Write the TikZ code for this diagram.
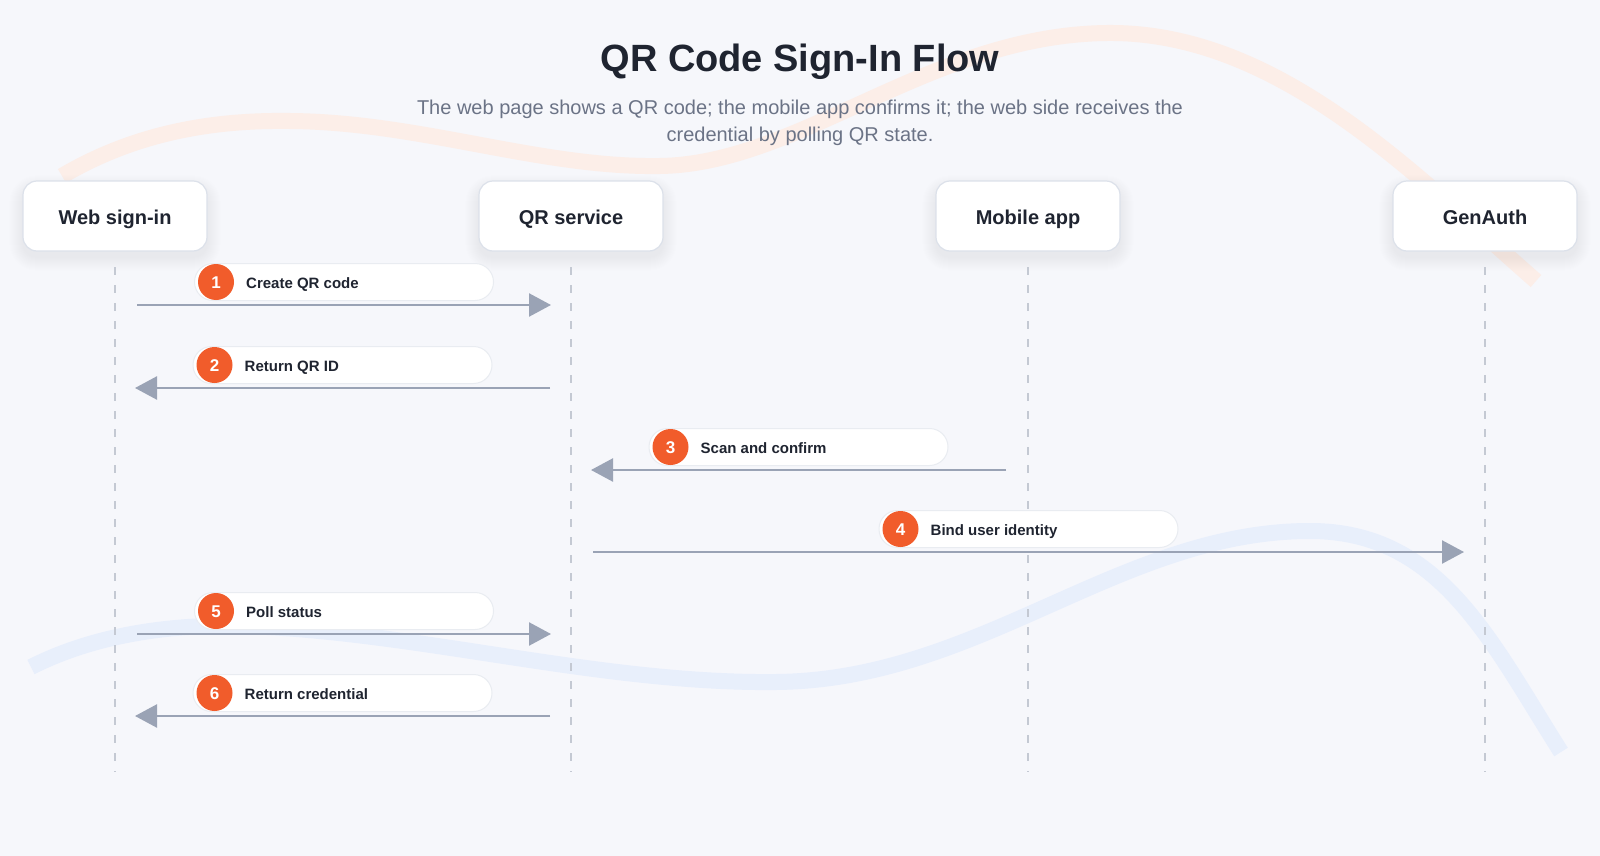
\documentclass[tikz,border=0pt]{standalone}
\usepackage{fontspec}
\setmainfont{Liberation Sans}
\usetikzlibrary{arrows.meta,calc}
\definecolor{bg}{HTML}{F6F7FB}
\definecolor{ink}{HTML}{1F2430}
\definecolor{subtxt}{HTML}{6B7386}
\definecolor{boxline}{HTML}{DCE1EA}
\definecolor{pillline}{HTML}{E9ECF1}
\definecolor{lifeclr}{HTML}{C4C9D3}
\definecolor{arrowclr}{HTML}{9AA3B5}
\definecolor{badgeclr}{HTML}{F15C2B}
\definecolor{peach}{HTML}{FCEEE8}
\definecolor{bluish}{HTML}{E8EFFB}
\pgfdeclarelayer{decolayer}
\pgfdeclarelayer{shadowlayer}
\pgfsetlayers{decolayer,shadowlayer,main}
\tikzset{
  actor/.style={draw=boxline, line width=1.2pt, fill=white, rounded corners=14pt,
    minimum width=184pt, minimum height=70pt, text=ink, text height=17pt, text depth=0pt,
    font=\bfseries\fontsize{20}{23}\selectfont},
  lifeline/.style={draw=lifeclr, line width=1.6pt, dash pattern=on 8pt off 10pt},
  msgarrow/.style={draw=arrowclr, line width=2.4pt, -{Triangle[length=22pt,width=23pt]}},
  pill/.style={draw=pillline, line width=1pt, fill=white, rounded corners=18.5pt,
    minimum width=299pt, minimum height=37pt, inner sep=0pt},
  badge/.style={circle, fill=badgeclr, minimum size=36pt, inner sep=0pt, text=white,
    text height=12.5pt, text depth=0pt, font=\bfseries\fontsize{17}{20}\selectfont},
  msglabel/.style={anchor=west, inner sep=0pt, text=ink, text height=12.8pt, text depth=0pt,
    font=\bfseries\fontsize{15}{18}\selectfont},
  deco/.style={line width=16pt, line cap=butt},
  softshadow/.style={fill=black, opacity=0.0035}
}
\newcommand\qrmsg[6]{%
  \coordinate (#1s) at (#2,#4);
  \coordinate (#1e) at (#3,#4);
  \draw[msgarrow] (#1s) -- (#1e);
  \node[pill] (#1p) at ($(#1s)!0.5!(#1e)+(0,-23)$) {};
  \node[badge] (#1b) at ($(#1p.west)+(22,0)$) {#5};
  \node[msglabel] (#1t) at ($(#1p.west)+(52,0)$) {#6};
}
\newcommand\qractor[4]{%
  \node[actor] (#1) at (#2,#3) {#4};
  \begin{pgfonlayer}{shadowlayer}
    \foreach \k in {0,...,13}{
      \fill[softshadow, rounded corners={14pt+\k pt}]
        ($(#1.south west)+(-\k,\k+6)$) rectangle ($(#1.north east)+(\k,-\k+8)$);
    }
  \end{pgfonlayer}
}
\begin{document}
\begin{tikzpicture}[x=1pt,y=-1pt]
\useasboundingbox (0,0) rectangle (1600,856);
\begin{pgfonlayer}{decolayer}
\fill[bg] (0,0) rectangle (1600,856);
% decorative curves
\draw[deco, draw=peach] (62,176) .. controls (140,130) and (220,120) .. (290,121)
  .. controls (420,122) and (540,168) .. (660,166)
  .. controls (800,164) and (930,35) .. (1107,33)
  .. controls (1280,31) and (1420,180) .. (1536,281);
\draw[deco, draw=bluish] (31,667) .. controls (100,632) and (180,624) .. (245,626)
  .. controls (420,632) and (600,684) .. (776,682)
  .. controls (980,680) and (1120,531) .. (1310,531)
  .. controls (1440,531) and (1490,640) .. (1561,752);
\end{pgfonlayer}
% title
\node[font=\bfseries\fontsize{38}{44}\selectfont, text=ink] (title) at (800,62) {QR Code Sign-In Flow};
\node[align=center, font=\fontsize{20}{27}\selectfont, text=subtxt] (subtitle) at (800,123)
  {The web page shows a QR code; the mobile app confirms it; the web side receives the\\credential by polling QR state.};
% lifelines
\foreach \n/\x in {web/115, qr/571, mob/1028, gen/1485}{
  \coordinate (\n top) at (\x,267);
  \coordinate (\n bot) at (\x,772);
  \draw[lifeline] (\n top) -- (\n bot);
}
% messages
\qrmsg{ma}{137}{551}{305}{1}{Create QR code}
\qrmsg{mb}{550}{135}{388}{2}{Return QR ID}
\qrmsg{mc}{1006}{591}{470}{3}{Scan and confirm}
\qrmsg{md}{593}{1464}{552}{4}{Bind user identity}
\qrmsg{me}{137}{551}{634}{5}{Poll status}
\qrmsg{mf}{550}{135}{716}{6}{Return credential}
% actors
\qractor{web}{115}{216}{Web sign-in}
\qractor{qr}{571}{216}{QR service}
\qractor{mob}{1028}{216}{Mobile app}
\qractor{gen}{1485}{216}{GenAuth}
\end{tikzpicture}
\end{document}
